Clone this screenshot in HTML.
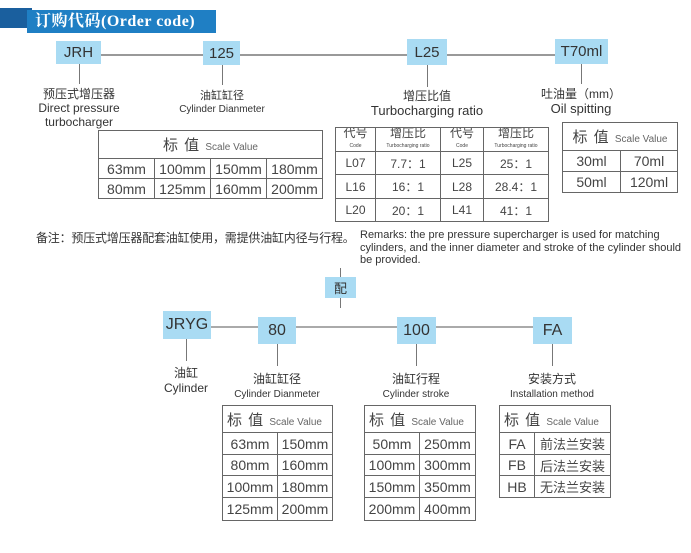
<!DOCTYPE html>
<html><head><meta charset="utf-8"><style>
*{margin:0;padding:0;box-sizing:border-box}
body{width:691px;height:553px;background:#fff;position:relative;overflow:hidden;font-family:"Liberation Sans","Noto Sans CJK SC",sans-serif;color:#333}
.a{position:absolute}
.b{position:absolute;background:#a9dbf3;color:#333;display:flex;align-items:center;justify-content:center;font-size:15px}
.h{position:absolute;height:1px;background:#888}
.v{position:absolute;width:1px;background:#777}
.l{position:absolute;text-align:center;white-space:nowrap;transform:translateX(-50%);line-height:1.15}
table{position:absolute;border-collapse:collapse;table-layout:fixed}
td{border:1.5px solid #666;text-align:center;font-size:14px;color:#444;padding:0;white-space:nowrap;overflow:hidden}
.hd{font-size:15px;letter-spacing:1px}
.hd span{font-size:10px;color:#666;letter-spacing:0}
</style></head><body>
<div class="a" style="left:0;top:8px;width:32px;height:20px;background:#1a5f9e"></div>
<div class="a" style="left:27px;top:10px;width:189px;height:23px;background:#1f7fc4;color:#fff;font-family:'Liberation Serif','Noto Serif CJK SC',serif;font-weight:bold;font-size:16px;line-height:23px;padding-left:8px;letter-spacing:0.5px">订购代码(Order code)</div>

<div class="h" style="left:101px;top:54px;width:454px;height:2px;background:#999"></div>
<div class="b" style="left:56px;top:41px;width:45px;height:23px">JRH</div>
<div class="b" style="left:203px;top:41px;width:37px;height:24px">125</div>
<div class="b" style="left:407px;top:39px;width:40px;height:26px">L25</div>
<div class="b" style="left:555px;top:39px;width:53px;height:25px">T70ml</div>
<div class="v" style="left:79px;top:64px;height:20px"></div>
<div class="v" style="left:222px;top:65px;height:20px"></div>
<div class="v" style="left:427px;top:65px;height:22px"></div>
<div class="v" style="left:581px;top:64px;height:20px"></div>
<div class="l" style="left:79px;top:88px;font-size:12px">预压式增压器<br>Direct pressure<br>turbocharger</div>
<div class="l" style="left:222px;top:90px;font-size:11px">油缸缸径<br><span style="font-size:10px">Cylinder Dianmeter</span></div>
<div class="l" style="left:427px;top:89px;font-size:12px;line-height:1.2">增压比值<br><span style="font-size:13px">Turbocharging ratio</span></div>
<div class="l" style="left:581px;top:87px;font-size:12px;line-height:1.2">吐油量（mm）<br><span style="font-size:13px">Oil spitting</span></div>

<table style="left:98px;top:130px;width:225px">
<tr style="height:28px"><td colspan="4" class="hd">标 值 <span>Scale Value</span></td></tr>
<tr style="height:20px"><td>63mm</td><td>100mm</td><td>150mm</td><td>180mm</td></tr>
<tr style="height:20px"><td>80mm</td><td>125mm</td><td>160mm</td><td>200mm</td></tr>
</table>

<table style="left:335px;top:127px;width:213px">
<colgroup><col style="width:40px"><col style="width:65px"><col style="width:43px"><col style="width:65px"></colgroup>
<tr style="height:23px"><td style="font-size:12px;line-height:10px">代号<br><span style="font-size:5px">Code</span></td><td style="font-size:12px;line-height:10px">增压比<br><span style="font-size:5px">Turbocharging ratio</span></td><td style="font-size:12px;line-height:10px">代号<br><span style="font-size:5px">Code</span></td><td style="font-size:12px;line-height:10px">增压比<br><span style="font-size:5px">Turbocharging ratio</span></td></tr>
<tr style="height:23px"><td style="font-size:12px">L07</td><td style="font-size:12px">7.7：1</td><td style="font-size:12px">L25</td><td style="font-size:12px">25：1</td></tr>
<tr style="height:24px"><td style="font-size:12px">L16</td><td style="font-size:12px">16：1</td><td style="font-size:12px">L28</td><td style="font-size:12px">28.4：1</td></tr>
<tr style="height:23px"><td style="font-size:12px">L20</td><td style="font-size:12px">20：1</td><td style="font-size:12px">L41</td><td style="font-size:12px">41：1</td></tr>
</table>

<table style="left:562px;top:122px;width:115px">
<colgroup><col style="width:58px"><col style="width:57px"></colgroup>
<tr style="height:28px"><td colspan="2" class="hd">标 值 <span>Scale Value</span></td></tr>
<tr style="height:21px"><td>30ml</td><td>70ml</td></tr>
<tr style="height:21px"><td>50ml</td><td>120ml</td></tr>
</table>

<div class="a" style="left:36px;top:229px;font-size:12px;white-space:nowrap;letter-spacing:-0.2px">备注：预压式增压器配套油缸使用，需提供油缸内径与行程。</div>
<div class="a" style="left:360px;top:229px;font-size:11px;line-height:12.5px;width:322px">Remarks: the pre pressure supercharger is used for matching cylinders, and the inner diameter and stroke of the cylinder should be provided.</div>

<div class="v" style="left:340px;top:268px;height:40px"></div>
<div class="b" style="left:325px;top:277px;width:31px;height:21px;font-size:13px">配</div>

<div class="h" style="left:211px;top:326px;width:322px;height:2px;background:#aaa"></div>
<div class="b" style="left:163px;top:311px;width:48px;height:28px;font-size:16px">JRYG</div>
<div class="b" style="left:258px;top:317px;width:38px;height:27px;font-size:16px">80</div>
<div class="b" style="left:397px;top:317px;width:39px;height:27px;font-size:16px">100</div>
<div class="b" style="left:533px;top:317px;width:39px;height:27px;font-size:16px">FA</div>
<div class="v" style="left:186px;top:339px;height:22px"></div>
<div class="v" style="left:277px;top:344px;height:22px"></div>
<div class="v" style="left:416px;top:344px;height:22px"></div>
<div class="v" style="left:552px;top:344px;height:22px"></div>
<div class="l" style="left:186px;top:366px;font-size:12px;line-height:1.25">油缸<br>Cylinder</div>
<div class="l" style="left:277px;top:372px;font-size:12px;line-height:1.2">油缸缸径<br><span style="font-size:10px">Cylinder Dianmeter</span></div>
<div class="l" style="left:416px;top:372px;font-size:12px;line-height:1.2">油缸行程<br><span style="font-size:10px">Cylinder stroke</span></div>
<div class="l" style="left:552px;top:372px;font-size:12px;line-height:1.2">安装方式<br><span style="font-size:10px">Installation method</span></div>

<table style="left:222px;top:405px;width:110px">
<colgroup><col style="width:55px"><col style="width:55px"></colgroup>
<tr style="height:27px"><td colspan="2" class="hd" style="text-align:left;padding-left:4px">标 值 <span>Scale Value</span></td></tr>
<tr style="height:22px"><td>63mm</td><td>150mm</td></tr>
<tr style="height:21px"><td>80mm</td><td>160mm</td></tr>
<tr style="height:22px"><td>100mm</td><td>180mm</td></tr>
<tr style="height:23px"><td>125mm</td><td>200mm</td></tr>
</table>
<table style="left:364px;top:405px;width:111px">
<colgroup><col style="width:55px"><col style="width:56px"></colgroup>
<tr style="height:27px"><td colspan="2" class="hd" style="text-align:left;padding-left:4px">标 值 <span>Scale Value</span></td></tr>
<tr style="height:22px"><td>50mm</td><td>250mm</td></tr>
<tr style="height:21px"><td>100mm</td><td>300mm</td></tr>
<tr style="height:22px"><td>150mm</td><td>350mm</td></tr>
<tr style="height:23px"><td>200mm</td><td>400mm</td></tr>
</table>
<table style="left:499px;top:405px;width:111px">
<colgroup><col style="width:35px"><col style="width:76px"></colgroup>
<tr style="height:27px"><td colspan="2" class="hd" style="text-align:left;padding-left:4px">标 值 <span>Scale Value</span></td></tr>
<tr style="height:22px"><td>FA</td><td style="font-size:13px">前法兰安装</td></tr>
<tr style="height:21px"><td>FB</td><td style="font-size:13px">后法兰安装</td></tr>
<tr style="height:22px"><td>HB</td><td style="font-size:13px">无法兰安装</td></tr>
</table>
</body></html>
